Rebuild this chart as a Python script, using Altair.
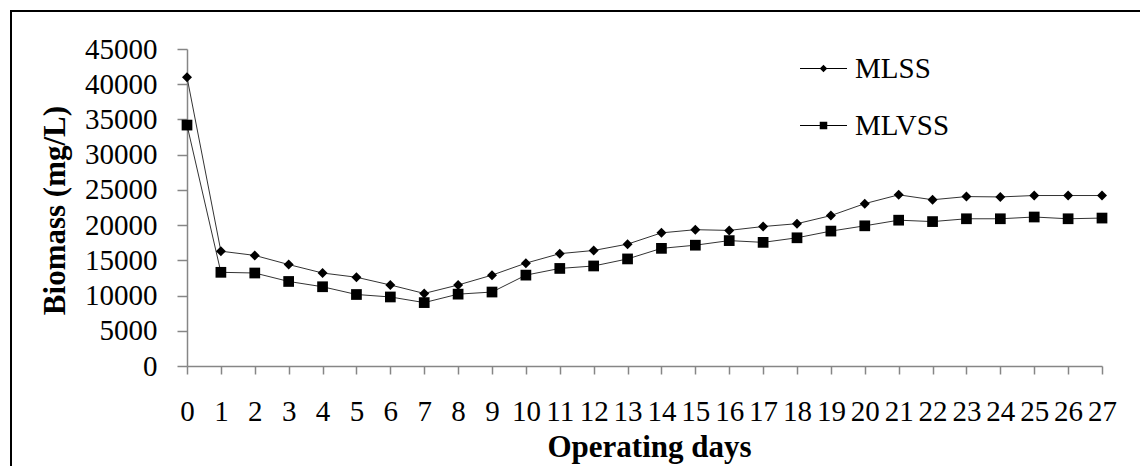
import altair as alt
import pandas as pd

days = list(range(28))
mlss = [41000, 16300, 15700, 14400, 13200, 12600, 11500, 10300, 11500, 12900,
        14600, 15950, 16400, 17300, 18900, 19350, 19250, 19800, 20200, 21350,
        23050, 24300, 23600, 24050, 24000, 24200, 24200, 24200]
mlvss = [34200, 13300, 13200, 12000, 11250, 10150, 9800, 9000, 10200, 10500,
         12900, 13850, 14200, 15200, 16700, 17150, 17800, 17550, 18200, 19150,
         19900, 20700, 20500, 20900, 20900, 21150, 20900, 21000]
series_names = ["MLSS", "MLVSS"]
y_ticks = list(range(0, 45001, 5000))

df = pd.DataFrame({
    "day": days * 2,
    "value": mlss + mlvss,
    "series": [series_names[0]] * len(days) + [series_names[1]] * len(days),
})

W, H = 915, 317
FONT = "Liberation Serif"

x_enc = alt.X("day:Q", scale=alt.Scale(domain=[0, 27], nice=False, zero=False),
              axis=alt.Axis(values=days, format="d", title="Operating days",
                            labelFontSize=29, labelPadding=23, tickSize=8,
                            labelFlush=False, labelOverlap=False, labelSeparation=0,
                            titleFontSize=31, titleFontWeight="bold",
                            titleX=462, titleY=81, titleBaseline="middle",
                            titleAlign="center"))
y_enc = alt.Y("value:Q", scale=alt.Scale(domain=[0, 45000], nice=False),
              axis=alt.Axis(values=y_ticks, format="d", title="Biomass (mg/L)",
                            labelFontSize=29, labelPadding=20, tickSize=10,
                            labelFlush=False, labelOverlap=False,
                            titleFontSize=31, titleFontWeight="bold",
                            titleX=-132, titleY=161, titleAngle=-90,
                            titleAlign="center", titleBaseline="middle"))

base = alt.Chart(df)

lines = base.mark_line(color="#333333", strokeWidth=1).encode(
    x=x_enc, y=y_enc, detail="series:N")

points = base.mark_point(filled=True, color="black", opacity=1).encode(
    x=x_enc, y=y_enc,
    shape=alt.Shape("series:N", scale=alt.Scale(domain=series_names,
                                                range=["diamond", "square"]),
                    legend=None),
    size=alt.Size("series:N", scale=alt.Scale(domain=series_names, range=[100, 115]),
                  legend=None),
)

# legend symbols: a thin filled bar (the line) plus the marker, as one path
diamond_path = ("M-1,-0.022L1,-0.022L1,0.022L-1,0.022Z"
                "M0,-0.16L0.16,0L0,0.16L-0.16,0Z")
square_path = ("M-1,-0.022L1,-0.022L1,0.022L-1,0.022Z"
               "M-0.16,-0.16L0.16,-0.16L0.16,0.16L-0.16,0.16Z")

legend_layer = base.transform_filter("false").mark_point(filled=True, color="black").encode(
    x=x_enc, y=y_enc,
    shape=alt.Shape("series:N", title=None,
                    scale=alt.Scale(domain=series_names, range=[diamond_path, square_path]),
                    legend=alt.Legend(orient="none", legendX=613, legendY=-4,
                                      symbolSize=2209, symbolStrokeWidth=0,
                                      symbolFillColor="black",
                                      symbolOpacity=1,
                                      labelFontSize=29, labelFont=FONT, labelColor="black",
                                      labelOffset=8, rowPadding=18, padding=0)),
)

border = alt.Chart(pd.DataFrame({"k": [0]})).mark_rect(
    fill=None, stroke="black", strokeWidth=2).encode(
    x=alt.value(-176), x2=alt.value(1100), y=alt.value(-38), y2=alt.value(600))

chart = alt.layer(border, lines, points, legend_layer).resolve_scale(
    shape="independent", size="independent").resolve_legend(shape="independent").properties(
    width=W, height=H,
    autosize=alt.AutoSizeParams(type="none"),
    padding={"left": 179, "top": 41, "right": 38, "bottom": 100},
).configure(font=FONT).configure_view(stroke=None).configure_axis(
    grid=False, domainColor="#868686", tickColor="#868686", domainWidth=1.5,
    tickWidth=1.5, labelColor="black", titleColor="black", labelFont=FONT, titleFont=FONT,
    labelOverlap=False,
)

chart.save("out.html", embed_options={"renderer": "svg", "actions": False})
